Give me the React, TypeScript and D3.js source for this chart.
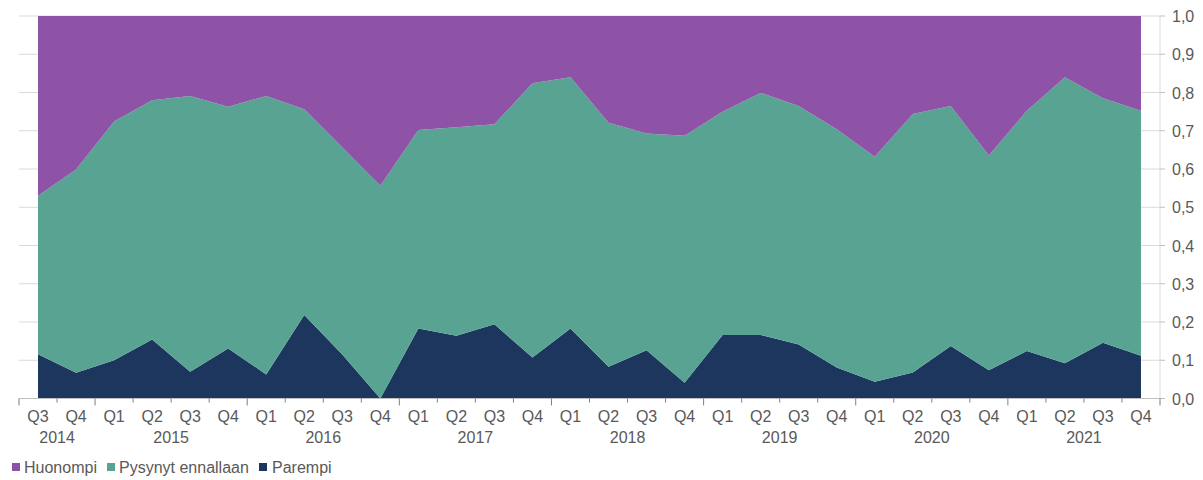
import React from 'react';
import * as d3 from 'd3';

// quarters Q3/2014 .. Q4/2021
const quarters = ['Q3', 'Q4',
  'Q1', 'Q2', 'Q3', 'Q4', 'Q1', 'Q2', 'Q3', 'Q4', 'Q1', 'Q2', 'Q3', 'Q4',
  'Q1', 'Q2', 'Q3', 'Q4', 'Q1', 'Q2', 'Q3', 'Q4', 'Q1', 'Q2', 'Q3', 'Q4',
  'Q1', 'Q2', 'Q3', 'Q4'];
const years = ['2014', '2014',
  '2015', '2015', '2015', '2015', '2016', '2016', '2016', '2016', '2017', '2017', '2017', '2017',
  '2018', '2018', '2018', '2018', '2019', '2019', '2019', '2019', '2020', '2020', '2020', '2020',
  '2021', '2021', '2021', '2021'];

const parempi = [0.116, 0.067, 0.100, 0.154, 0.070, 0.131, 0.063, 0.218, 0.115, 0.000,
  0.183, 0.164, 0.194, 0.107, 0.183, 0.083, 0.126, 0.041, 0.166, 0.166,
  0.141, 0.081, 0.044, 0.068, 0.137, 0.074, 0.124, 0.092, 0.146, 0.112];
const pysynyt = [0.414, 0.532, 0.624, 0.626, 0.721, 0.632, 0.728, 0.538, 0.541, 0.556,
  0.519, 0.545, 0.523, 0.717, 0.657, 0.638, 0.567, 0.646, 0.584, 0.633,
  0.624, 0.623, 0.588, 0.676, 0.628, 0.561, 0.628, 0.748, 0.639, 0.640];
const huonompi = [0.470, 0.401, 0.276, 0.220, 0.209, 0.237, 0.209, 0.244, 0.344, 0.444,
  0.298, 0.291, 0.283, 0.176, 0.160, 0.279, 0.307, 0.313, 0.250, 0.201,
  0.235, 0.296, 0.368, 0.256, 0.235, 0.365, 0.248, 0.160, 0.215, 0.248];

const yTicks = [0, 0.1, 0.2, 0.3, 0.4, 0.5, 0.6, 0.7, 0.8, 0.9, 1.0];

const seriesKeys = ['parempi', 'pysynyt', 'huonompi'];
const seriesNames = { huonompi: 'Huonompi', pysynyt: 'Pysynyt ennallaan', parempi: 'Parempi' };
const colors = { huonompi: '#8e53a6', pysynyt: '#58a392', parempi: '#1c365e' };

const font = 'Liberation Sans, Arial, sans-serif';
const textColor = '#595959';

export default function App() {
  const rows = quarters.map((q, i) => ({
    i, parempi: parempi[i], pysynyt: pysynyt[i], huonompi: huonompi[i],
  }));

  const x = d3.scaleBand<number>().domain(rows.map(d => d.i)).range([19, 1160]);
  const y = d3.scaleLinear().domain([0, 1]).range([398.5, 16]);
  const cx = (i: number) => (x(i) as number) + x.bandwidth() / 2;

  const stacked = d3.stack<any>().keys(seriesKeys)(rows);
  const area = d3.area<any>()
    .x(d => cx(d.data.i))
    .y0(d => y(d[0]))
    .y1(d => y(d[1]));

  // year groups for second label row
  const yearGroups = d3.groups(rows.map(r => ({ i: r.i, yr: years[r.i] })), d => d.yr);

  const x0 = 19, x1 = 1160, yBase = y(0);

  return (
    <svg width={1203} height={480} style={{ position: 'absolute', left: 0, top: 0, background: '#fff' }}
      fontFamily={font}>
      {/* gridlines */}
      {yTicks.slice(1).map(t => (
        <line key={t} x1={x0} x2={x1} y1={y(t)} y2={y(t)} stroke="#d9d9d9" strokeWidth={1} />
      ))}

      {/* stacked areas */}
      {stacked.map(s => (
        <path key={s.key} d={area(s) as string} fill={colors[s.key]} />
      ))}

      {/* right axis */}
      <line x1={x1} x2={x1} y1={y(1)} y2={yBase} stroke="#d9d9d9" />
      {yTicks.map(t => (
        <g key={t}>
          <line x1={x1} x2={x1 + 5} y1={y(t)} y2={y(t)} stroke="#bfbfbf" />
          <text x={1172} y={y(t) + 6} fontSize={16} fill={textColor}>
            {d3.format('.1f')(t).replace('.', ',')}
          </text>
        </g>
      ))}

      {/* x axis */}
      <line x1={x0} x2={x1 + 5} y1={yBase} y2={yBase} stroke="#bfbfbf" />
      {d3.range(quarters.length + 1).map(k => {
        const xx = x0 + k * x.step();
        const yearBreak = k === 0 || k === quarters.length || quarters[k] === 'Q1';
        return <line key={k} x1={xx} x2={xx} y1={yBase} y2={yBase + (yearBreak ? 7 : 4)} stroke="#7f7f7f" />;
      })}
      {quarters.map((q, i) => (
        <text key={i} x={cx(i)} y={421.5} fontSize={16} fill={textColor} textAnchor="middle">{q}</text>
      ))}
      {yearGroups.map(([yr, items]) => {
        const mid = (cx(items[0].i) + cx(items[items.length - 1].i)) / 2;
        return <text key={yr} x={mid} y={443} fontSize={16} fill={textColor} textAnchor="middle">{yr}</text>;
      })}

      {/* legend */}
      {[['huonompi', 12, 24], ['pysynyt', 107, 119], ['parempi', 259, 272]].map(([k, sx, tx]) => (
        <g key={k as string}>
          <rect x={sx as number} y={463} width={8} height={8} fill={colors[k as string]} />
          <text x={tx as number} y={472.5} fontSize={16} fill={textColor}>{seriesNames[k as string]}</text>
        </g>
      ))}
    </svg>
  );
}
